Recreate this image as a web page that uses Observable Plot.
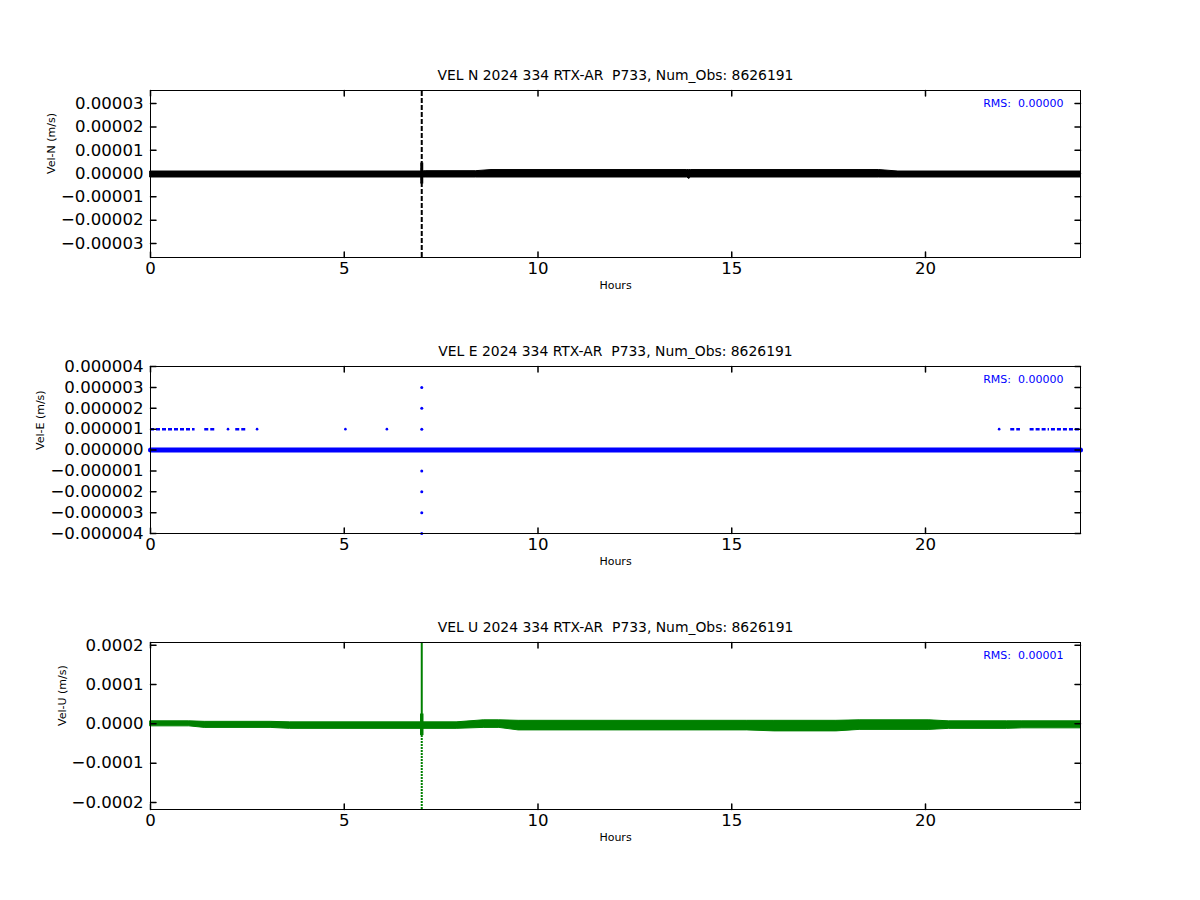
<!DOCTYPE html>
<html>
<head>
<meta charset="utf-8">
<script src="https://cdn.jsdelivr.net/npm/d3@7"></script>
<script src="https://cdn.jsdelivr.net/npm/@observablehq/plot@0.6"></script>
<style>
  body { margin: 0; background: white; }
  #chart { width: 1200px; height: 900px; }
  #chart svg { display: block; }
</style>
</head>
<body>
<div id="chart"></div>
<script>
// ---------- shared ----------
const hourTicks = [0, 5, 10, 15, 20];
const hourDomain = [0, 24];
const titleSuffix = " 2024 334 RTX-AR  P733, Num_Obs: 8626191";

// ---------- VEL N ----------
const nTitle = "VEL N" + titleSuffix;
const nLabel = "Vel-N (m/s)";
const nRms = "RMS:  0.00000";
const nDomain = [-0.0000360, 0.0000356];
const nTicks = [-0.00003, -0.00002, -0.00001, 0, 0.00001, 0.00002, 0.00003];
const nBandHours = [0, 7.0, 7.1, 8.4, 8.8, 13.85, 13.9, 13.95, 18.8, 19.3, 24];
const nBandUpper = [0.00000086, 0.00000086, 0.000001, 0.000001, 0.0000015, 0.0000015, 0.0000015, 0.0000015, 0.0000015, 0.00000086, 0.00000086];
const nBandLower = [-0.0000017, -0.0000017, -0.0000017, -0.0000017, -0.0000017, -0.0000017, -0.0000023, -0.0000017, -0.0000017, -0.0000017, -0.0000017];
const nSpikeHour = [7.0];
const nSpikeTop = [0.0000356];
const nSpikeBottom = [-0.0000360];
const nCoreTop = [0.0000045];
const nCoreBottom = [-0.0000045];

// ---------- VEL E ----------
const eTitle = "VEL E" + titleSuffix;
const eLabel = "Vel-E (m/s)";
const eRms = "RMS:  0.00000";
const eDomain = [-0.000004, 0.000004];
const eTicks = [-0.000004, -0.000003, -0.000002, -0.000001, 0, 0.000001, 0.000002, 0.000003, 0.000004];
const eBandHours = [0, 24];
const eBandValue = [0, 0];
const eHighStart = [0.0, 1.4, 2.2, 22.2, 22.7, 23.25];
const eHighEnd   = [1.15, 1.7, 2.5, 22.45, 23.2, 24.0];
const eHighPoints = [2.0, 2.75, 5.03, 6.1, 21.9];
const eHighValue = 0.000001;
const eSpikeHour = 7.0;
const eSpikeValues = [0.000003, 0.000002, 0.000001, -0.000001, -0.000002, -0.000003, -0.000004];

// ---------- VEL U ----------
const uTitle = "VEL U" + titleSuffix;
const uLabel = "Vel-U (m/s)";
const uRms = "RMS:  0.00001";
const uDomain = [-0.000218, 0.000207];
const uTicks = [-0.0002, -0.0001, 0, 0.0001, 0.0002];
const uBandHours = [0, 1.0, 1.4, 3.1, 3.6, 7.9, 8.6, 9.0, 9.5, 15.4, 16.1, 17.7, 18.3, 20.1, 20.6, 22.1, 22.5, 24];
const uBandUpper = [0.0000064, 0.0000064, 0.0000051, 0.0000051, 0.0000038, 0.0000038, 0.000009, 0.000009, 0.0000077, 0.0000077, 0.0000077, 0.0000077, 0.000009, 0.000009, 0.0000064, 0.0000064, 0.0000064, 0.0000064];
const uBandLower = [-0.0000064, -0.0000064, -0.0000103, -0.0000103, -0.0000128, -0.0000128, -0.0000103, -0.0000103, -0.0000167, -0.0000167, -0.0000192, -0.0000192, -0.0000154, -0.0000154, -0.0000128, -0.0000128, -0.0000115, -0.0000115];
const uSpikeHour = [7.0];
const uSpikeTop = [0.000207];
const uSpikeBottom = [-0.000218];
const uCoreTop = [0.000025];
const uCoreBottom = [-0.00003];

// ---------- helpers ----------
const tickShape = {draw(context, l) { context.moveTo(0, 0); context.lineTo(0, -l); }};
const TL = 5.5;

function frameTicks(yTicks, yDomain) {
  return [
    Plot.vector(yTicks, {x: () => hourDomain[0], y: d => d, length: TL, rotate: 90, anchor: "start", shape: tickShape, stroke: "black"}),
    Plot.vector(yTicks, {x: () => hourDomain[1], y: d => d, length: TL, rotate: 270, anchor: "start", shape: tickShape, stroke: "black"}),
    Plot.vector(hourTicks, {x: d => d, y: () => yDomain[0], length: TL, rotate: 0, anchor: "start", shape: tickShape, stroke: "black"}),
    Plot.vector(hourTicks, {x: d => d, y: () => yDomain[1], length: TL, rotate: 180, anchor: "start", shape: tickShape, stroke: "black"})
  ];
}

function panel({height, marginTop, yDomain, yTicks, fmt, title, label, labelDx, rms, marks}) {
  return Plot.plot({
    width: 1200,
    height,
    marginTop,
    marginBottom: height - marginTop - 167,
    marginLeft: 150,
    marginRight: 120,
    style: {fontFamily: "DejaVu Sans", fontSize: "16.6px", background: "white", color: "black", overflow: "visible"},
    x: {domain: hourDomain},
    y: {domain: yDomain},
    marks: [
      ...marks,
      Plot.frame({stroke: "black", strokeWidth: 1}),
      ...frameTicks(yTicks, yDomain),
      Plot.axisX({ticks: hourTicks, tickSize: 0, tickPadding: 5, tickFormat: d3.format("d"), label: null}),
      Plot.axisY({ticks: yTicks, tickSize: 0, tickPadding: 7, tickFormat: d3.format(fmt), label: null}),
      Plot.text([title], {text: d => d, frameAnchor: "top", lineAnchor: "middle", dy: -15, fontSize: 13.9}),
      Plot.text(["Hours"], {text: d => d, frameAnchor: "bottom", lineAnchor: "middle", dy: 28, fontSize: 11}),
      Plot.text([label], {text: d => d, frameAnchor: "left", lineAnchor: "middle", dx: labelDx, rotate: -90, fontSize: 11}),
      Plot.text([rms], {text: d => d, frameAnchor: "top-right", lineAnchor: "middle", textAnchor: "end", dx: -17, dy: 13, fill: "blue", fontSize: 11})
    ]
  });
}

const nBand = nBandHours.map((h, i) => ({h, lo: nBandLower[i], hi: nBandUpper[i]}));
const uBand = uBandHours.map((h, i) => ({h, lo: uBandLower[i], hi: uBandUpper[i]}));
const eSegs = eHighStart.map((s, i) => ({s, e: eHighEnd[i]}));
const eBand = eBandHours.map((h, i) => ({h, v: eBandValue[i]}));

const chart = document.getElementById("chart");

chart.append(panel({
  height: 300, marginTop: 90, yDomain: nDomain, yTicks: nTicks, fmt: ".5f",
  title: nTitle, label: nLabel, labelDx: -99, rms: nRms,
  marks: [
    Plot.areaY(nBand, {x: "h", y1: "lo", y2: "hi", fill: "black", stroke: "black", strokeWidth: 1}),
    Plot.ruleX(nSpikeHour, {x: d => d, y1: (d, i) => nSpikeBottom[i], y2: (d, i) => nSpikeTop[i], stroke: "black", strokeWidth: 2, strokeDasharray: "5,2"}),
    Plot.ruleX(nSpikeHour, {x: d => d, y1: (d, i) => nCoreBottom[i], y2: (d, i) => nCoreTop[i], stroke: "black", strokeWidth: 3})
  ]
}));

chart.append(panel({
  height: 276, marginTop: 66, yDomain: eDomain, yTicks: eTicks, fmt: ".6f",
  title: eTitle, label: eLabel, labelDx: -110, rms: eRms,
  marks: [
    Plot.line(eBand, {x: "h", y: "v", stroke: "blue", strokeWidth: 5}),
    Plot.ruleY(eSegs, {y: () => eHighValue, x1: "s", x2: "e", stroke: "blue", strokeWidth: 2.5, strokeDasharray: "4,2"}),
    Plot.dot(eHighPoints, {x: d => d, y: () => eHighValue, r: 1.3, fill: "blue", stroke: null}),
    Plot.dot(eSpikeValues, {x: () => eSpikeHour, y: d => d, r: 1.5, fill: "blue", stroke: null})
  ]
}));

chart.append(panel({
  height: 324, marginTop: 66, yDomain: uDomain, yTicks: uTicks, fmt: ".4f",
  title: uTitle, label: uLabel, labelDx: -88, rms: uRms,
  marks: [
    Plot.areaY(uBand, {x: "h", y1: "lo", y2: "hi", fill: "green", stroke: "green", strokeWidth: 1}),
    Plot.ruleX(uSpikeHour, {x: d => d, y1: () => 0, y2: (d, i) => uSpikeTop[i], stroke: "green", strokeWidth: 2}),
    Plot.ruleX(uSpikeHour, {x: d => d, y1: (d, i) => uSpikeBottom[i], y2: () => 0, stroke: "green", strokeWidth: 2, strokeDasharray: "2,1"}),
    Plot.ruleX(uSpikeHour, {x: d => d, y1: (d, i) => uCoreBottom[i], y2: (d, i) => uCoreTop[i], stroke: "green", strokeWidth: 3.5})
  ]
}));
</script>
</body>
</html>
